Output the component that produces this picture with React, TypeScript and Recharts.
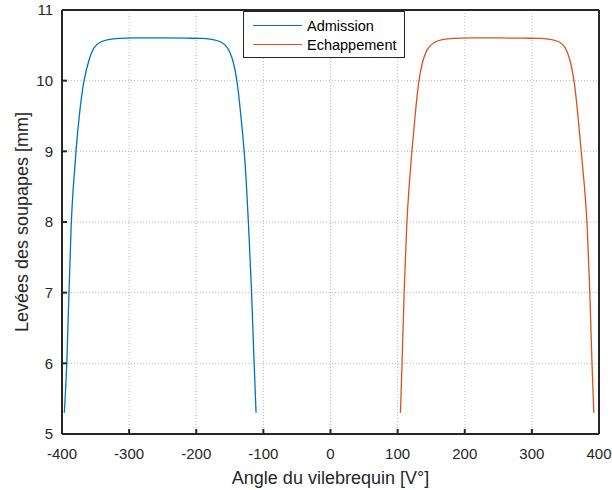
import { LineChart, Line, XAxis, YAxis, CartesianGrid } from 'recharts';

// lift curves (angle in °V, lift in mm)
const admissionAngle = [
    -396.5, -392.5, -389.6, -386.5, -383.2, -379.3, -374.5, -368.2, -358.8, -352.3, -343.8, -331.4,
    -316.5, -290, -250, -210, -189.4, -174.5, -162, -153.6, -146.2, -138.7, -133.5, -128.3, -125,
    -122.3, -117.3, -113.9, -110.9,
];
const admissionLift = [
    5.3, 6.0, 7.0, 8.0, 8.5, 9.0, 9.5, 10.0, 10.34, 10.48, 10.55, 10.585,
    10.6, 10.605, 10.605, 10.6, 10.6, 10.585, 10.55, 10.48, 10.34, 10.0, 9.5, 9.0, 8.5,
    8.0, 7.0, 6.0, 5.3,
];

const exhaustAngle = [
    104.2, 106.7, 109.5, 113.5, 117, 121.1, 126, 131, 138.5, 146, 154.8, 165.9,
    180.8, 210, 250, 290, 314.9, 329.8, 342.2, 349.6, 356, 363.5, 368.7, 373.5, 378.5,
    382.5, 386.5, 389.4, 392.3,
];
const exhaustLift = [
    5.3, 6.0, 7.0, 8.0, 8.5, 9.0, 9.5, 10.0, 10.34, 10.48, 10.55, 10.585,
    10.6, 10.605, 10.605, 10.6, 10.6, 10.585, 10.55, 10.48, 10.34, 10.0, 9.5, 9.0, 8.5,
    8.0, 7.0, 6.0, 5.3,
];

const xTicks = [-400, -300, -200, -100, 0, 100, 200, 300, 400];
const yTicks = [5, 6, 7, 8, 9, 10, 11];

const admission = admissionAngle.map((a, i) => ({ angle: a, lift: admissionLift[i] }));
const exhaust = exhaustAngle.map((a, i) => ({ angle: a, lift: exhaustLift[i] }));

const BLUE = '#0072BD';
const ORANGE = '#D95319';
const AXIS = '#262626';
const FONT = '"Liberation Sans", Arial, sans-serif';

function LegendBox() {
    const items = [
        { name: 'Admission', color: BLUE },
        { name: 'Echappement', color: ORANGE },
    ];
    return (
        <div
            style={{
                position: 'absolute',
                left: 243,
                top: 11,
                width: 162,
                height: 47,
                background: '#fff',
                border: `1px solid ${AXIS}`,
                fontFamily: FONT,
                fontSize: 14.5,
                color: '#000',
                boxSizing: 'border-box',
                paddingTop: 4,
            }}
        >
            {items.map((it) => (
                <div key={it.name} style={{ display: 'flex', alignItems: 'center', height: 19 }}>
                    <span
                        style={{
                            display: 'inline-block',
                            width: 49,
                            height: 0,
                            borderTop: `1px solid ${it.color}`,
                            marginLeft: 9,
                            marginRight: 5,
                        }}
                    />
                    <span>{it.name}</span>
                </div>
            ))}
        </div>
    );
}

export default function App() {
    const tick = { fill: AXIS, fontSize: 15, fontFamily: FONT };
    return (
        <div style={{ position: 'absolute', left: 0, top: 0, width: 612, height: 490, background: '#fff' }}>
            <LineChart
                width={612}
                height={490}
                margin={{ top: 9, right: 12, left: 0, bottom: 0 }}
            >
                <CartesianGrid
                    stroke="#b8b8b8"
                    strokeDasharray="1 2"
                    horizontalValues={yTicks}
                    verticalValues={xTicks}
                />
                <XAxis
                    dataKey="angle"
                    type="number"
                    domain={[-400, 400]}
                    ticks={xTicks}
                    allowDataOverflow
                    height={56}
                    stroke={AXIS}
                    strokeWidth={2}
                    tickSize={-5}
                    tickMargin={19}
                    tick={tick}
                    label={{
                        value: 'Angle du vilebrequin [V°]',
                        position: 'insideBottom',
                        offset: 6,
                        fill: AXIS,
                        fontSize: 18,
                        fontFamily: FONT,
                    }}
                />
                <XAxis
                    xAxisId="top"
                    orientation="top"
                    type="number"
                    domain={[-400, 400]}
                    ticks={xTicks}
                    height={1}
                    stroke={AXIS}
                    strokeWidth={2}
                    tickSize={-5}
                    tick={false}
                />
                <YAxis
                    type="number"
                    domain={[5, 11]}
                    ticks={yTicks}
                    allowDataOverflow
                    width={62}
                    stroke={AXIS}
                    strokeWidth={2}
                    tickSize={-5}
                    tickMargin={14}
                    tick={tick}
                    label={{
                        value: 'Levées des soupapes [mm]',
                        angle: -90,
                        position: 'insideLeft',
                        offset: 22,
                        style: { textAnchor: 'middle' },
                        fill: AXIS,
                        fontSize: 18,
                        fontFamily: FONT,
                    }}
                />
                <YAxis
                    yAxisId="right"
                    orientation="right"
                    type="number"
                    domain={[5, 11]}
                    ticks={yTicks}
                    width={1}
                    stroke={AXIS}
                    strokeWidth={2}
                    tickSize={-5}
                    tick={false}
                />
                <Line
                    data={admission}
                    dataKey="lift"
                    name="Admission"
                    type="basis"
                    stroke={BLUE}
                    strokeWidth={1.3}
                    dot={false}
                    isAnimationActive={false}
                />
                <Line
                    data={exhaust}
                    dataKey="lift"
                    name="Echappement"
                    type="basis"
                    stroke={ORANGE}
                    strokeWidth={1.3}
                    dot={false}
                    isAnimationActive={false}
                />
            </LineChart>
            <LegendBox />
        </div>
    );
}
